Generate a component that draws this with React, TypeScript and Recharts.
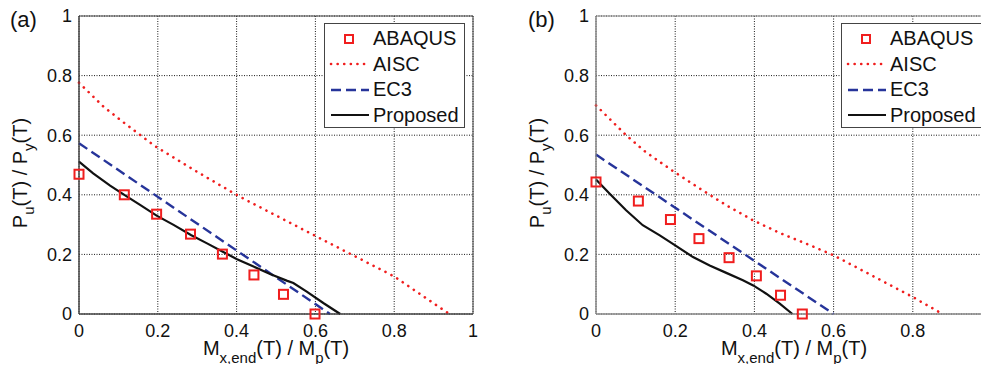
import React from "react";
import { ComposedChart, Line, Scatter, XAxis, YAxis, CartesianGrid, ReferenceArea } from "recharts";

// Panel (a): normalised moment M/Mp vs axial load P/Py
const abaqusAM = [0, 0.115, 0.197, 0.283, 0.364, 0.444, 0.519, 0.599];
const abaqusAP = [0.469, 0.4, 0.335, 0.268, 0.201, 0.131, 0.066, 0];
const aiscAM = [0, 0.062, 0.111, 0.192, 0.3, 0.409, 0.6, 0.8, 0.94];
const aiscAP = [0.776, 0.696, 0.645, 0.564, 0.477, 0.393, 0.262, 0.126, 0];
const ec3AM = [0, 0.637];
const ec3AP = [0.573, 0];
const proposedAM = [0, 0.036, 0.079, 0.115, 0.155, 0.197, 0.24, 0.284, 0.325, 0.365, 0.401, 0.443, 0.485, 0.527, 0.544, 0.578, 0.621, 0.663];
const proposedAP = [0.511, 0.472, 0.431, 0.4, 0.366, 0.33, 0.299, 0.265, 0.237, 0.209, 0.184, 0.159, 0.134, 0.112, 0.104, 0.075, 0.036, 0];

// Panel (b)
const abaqusBM = [0, 0.107, 0.188, 0.26, 0.336, 0.405, 0.466, 0.521];
const abaqusBP = [0.443, 0.379, 0.317, 0.253, 0.189, 0.128, 0.063, 0];
const aiscBM = [0, 0.076, 0.125, 0.194, 0.262, 0.329, 0.397, 0.464, 0.531, 0.6, 0.8, 0.875];
const aiscBP = [0.7, 0.6, 0.544, 0.48, 0.421, 0.365, 0.314, 0.272, 0.236, 0.197, 0.057, 0];
const ec3BM = [0, 0.6];
const ec3BP = [0.535, 0];
const proposedBM = [0, 0.034, 0.076, 0.118, 0.161, 0.199, 0.245, 0.287, 0.329, 0.371, 0.397, 0.43, 0.464, 0.496];
const proposedBP = [0.451, 0.404, 0.348, 0.298, 0.264, 0.231, 0.191, 0.163, 0.138, 0.113, 0.096, 0.068, 0.035, 0];

const axisTicks = [0, 0.2, 0.4, 0.6, 0.8, 1];
const seriesNames = ["ABAQUS", "AISC", "EC3", "Proposed"];

const FONT = "'Liberation Sans', Arial, Helvetica, sans-serif";
const RED = "#f01e1e";
const BLUE = "#26349a";

const zip = (m: number[], p: number[]) => m.map((x, i) => ({ x, y: p[i] }));
const fmt = (v: number) => (v === 0 || v === 1 ? String(v) : v.toFixed(1));

const Square = (props: any) => {
  const { cx, cy } = props;
  if (cx == null || cy == null) return null;
  return <rect x={cx - 4.5} y={cy - 4.5} width={9} height={9} fill="none" stroke={RED} strokeWidth={2} />;
};

const XLabel = ({ viewBox }: any) => {
  const { x, y, width } = viewBox;
  return (
    <text x={x + width / 2} y={y + 41} textAnchor="middle" fontSize={20} fontFamily={FONT} fill="#111">
      M<tspan dy={8} fontSize={15}>x,end</tspan>
      <tspan dy={-8}>(T) / M</tspan>
      <tspan dy={8} fontSize={15}>p</tspan>
      <tspan dy={-8}>(T)</tspan>
    </text>
  );
};

const YLabel = ({ viewBox }: any) => {
  const { x, y, width, height } = viewBox;
  const bx = x + width - 52;
  const cy = y + height / 2 + 8;
  return (
    <text x={bx} y={cy} transform={`rotate(-90 ${bx} ${cy})`} textAnchor="middle" fontSize={20} fontFamily={FONT} fill="#111">
      P<tspan dy={7} fontSize={15}>u</tspan>
      <tspan dy={-7}>(T) / P</tspan>
      <tspan dy={7} fontSize={15}>y</tspan>
      <tspan dy={-7}>(T)</tspan>
    </text>
  );
};

const LegendIcon = ({ name }: { name: string }) => (
  <svg width={48} height={20} style={{ display: "block" }}>
    {name === "ABAQUS" && <rect x={20} y={6} width={8} height={8} fill="none" stroke={RED} strokeWidth={2} />}
    {name === "AISC" && <line x1={6} y1={10} x2={44} y2={10} stroke={RED} strokeWidth={2.6} strokeDasharray="0.1 6.5" strokeLinecap="round" />}
    {name === "EC3" && <line x1={6} y1={10} x2={44} y2={10} stroke={BLUE} strokeWidth={2.4} strokeDasharray="10 5" />}
    {name === "Proposed" && <line x1={6} y1={10} x2={44} y2={10} stroke="#111" strokeWidth={2.2} />}
  </svg>
);

const LegendBox = ({ left, width }: { left: number; width: number }) => (
  <div
    style={{
      position: "absolute",
      left,
      top: 23,
      width,
      height: 105,
      boxSizing: "border-box",
      border: "1px solid #444",
      background: "#fff",
      paddingTop: 2,
      fontFamily: FONT,
      fontSize: 20,
      color: "#111",
    }}
  >
    {seriesNames.map((name) => (
      <div key={name} style={{ display: "flex", alignItems: "center", height: 25.5 }}>
        <LegendIcon name={name} />
        <span style={{ lineHeight: "25.5px" }}>{name}</span>
      </div>
    ))}
  </div>
);

interface PanelProps {
  tag: string;
  tagLeft: number;
  left: number;
  width: number;
  marginLeft: number;
  marginRight: number;
  axisColor: string;
  legendLeft: number;
  legendWidth: number;
  abaqus: { x: number; y: number }[];
  aisc: { x: number; y: number }[];
  ec3: { x: number; y: number }[];
  proposed: { x: number; y: number }[];
}

const Panel = (p: PanelProps) => {
  const tick = { fontSize: 18, fill: "#111", fontFamily: FONT };
  return (
    <div style={{ position: "absolute", left: p.left, top: 0, width: p.width, height: 372 }}>
      <ComposedChart width={p.width} height={372} margin={{ top: 16, right: p.marginRight, bottom: 18, left: p.marginLeft }}>
        <CartesianGrid stroke="#1a1a1a" strokeDasharray="1 1.5" />
        <XAxis
          type="number"
          dataKey="x"
          domain={[0, 1]}
          ticks={axisTicks}
          tickFormatter={fmt}
          tick={tick}
          tickLine={false}
          tickSize={0}
          tickMargin={10}
          height={40}
          axisLine={{ stroke: p.axisColor }}
          label={<XLabel />}
        />
        <YAxis
          type="number"
          dataKey="y"
          domain={[0, 1]}
          ticks={axisTicks}
          tickFormatter={fmt}
          tick={tick}
          tickLine={false}
          tickSize={0}
          tickMargin={7}
          width={40}
          axisLine={{ stroke: p.axisColor }}
          label={<YLabel />}
        />
        <ReferenceArea x1={0} x2={1} y1={0} y2={1} fill="none" stroke={p.axisColor} strokeWidth={1} />
        <Line data={p.aisc} dataKey="y" type="linear" stroke={RED} strokeWidth={2.6} strokeDasharray="0.1 6.6" strokeLinecap="round" dot={false} isAnimationActive={false} />
        <Line data={p.ec3} dataKey="y" type="linear" stroke={BLUE} strokeWidth={2.4} strokeDasharray="10 5" dot={false} isAnimationActive={false} />
        <Line data={p.proposed} dataKey="y" type="linear" stroke="#111" strokeWidth={2.2} dot={false} isAnimationActive={false} />
        <Scatter data={p.abaqus} dataKey="y" shape={<Square />} isAnimationActive={false} />
      </ComposedChart>
      <div style={{ position: "absolute", left: p.tagLeft, top: 7, fontFamily: FONT, fontSize: 22, color: "#111", zIndex: 2 }}>
        {p.tag}
      </div>
      <LegendBox left={p.legendLeft} width={p.legendWidth} />
    </div>
  );
};

export default function App() {
  return (
    <div style={{ position: "relative", width: 989, height: 372, margin: -8, overflow: "hidden", background: "#fff" }}>
      <Panel
        tag="(a)"
        tagLeft={10}
        left={0}
        width={490}
        marginLeft={39}
        marginRight={17}
        axisColor="#444"
        legendLeft={324}
        legendWidth={141}
        abaqus={zip(abaqusAM, abaqusAP)}
        aisc={zip(aiscAM, aiscAP)}
        ec3={zip(ec3AM, ec3AP)}
        proposed={zip(proposedAM, proposedAP)}
      />
      <Panel
        tag="(b)"
        tagLeft={28}
        left={500}
        width={510}
        marginLeft={56}
        marginRight={18}
        axisColor="#888"
        legendLeft={341}
        legendWidth={145}
        abaqus={zip(abaqusBM, abaqusBP)}
        aisc={zip(aiscBM, aiscBP)}
        ec3={zip(ec3BM, ec3BP)}
        proposed={zip(proposedBM, proposedBP)}
      />
    </div>
  );
}
